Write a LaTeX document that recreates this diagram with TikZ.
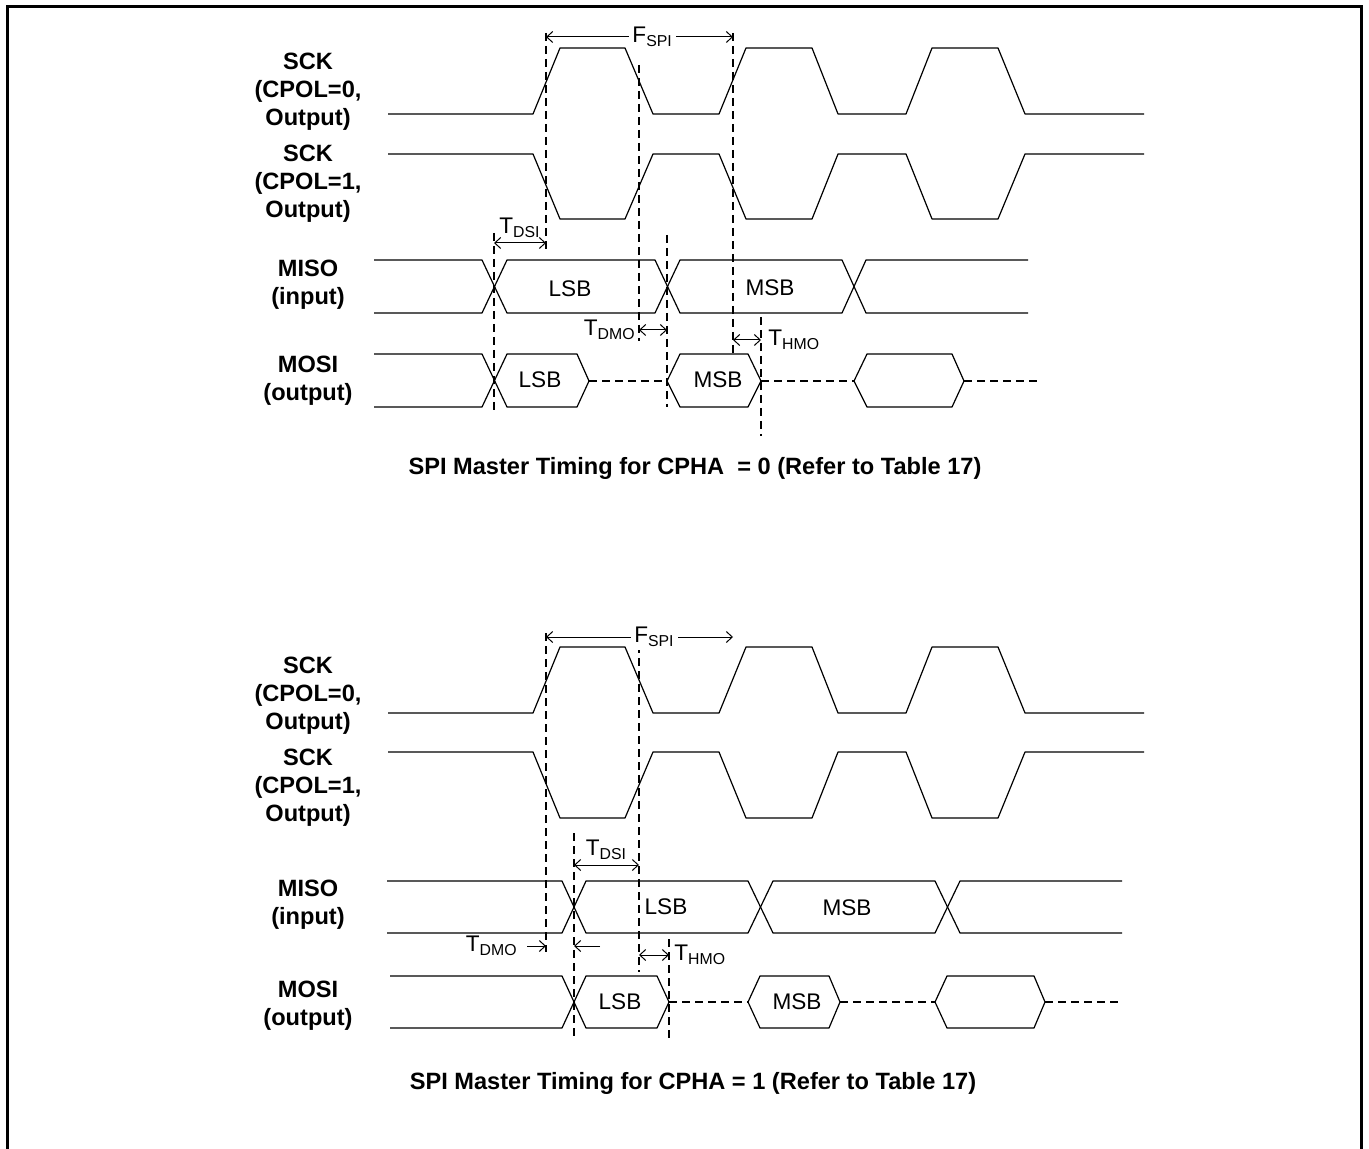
\documentclass[tikz,border=0pt]{standalone}
\usepackage{fontspec}
\setmainfont{Liberation Sans}
\usetikzlibrary{arrows.meta}
\tikzset{>={Straight Barb[length=3pt,width=5.5pt]}}
\tikzset{
  wave/.style = {line width=0.6pt, line join=round},
  guide/.style = {line width=0.75pt, dash pattern=on 4pt off 2.5pt},
  idle/.style = {line width=0.75pt, dash pattern=on 4pt off 2.5pt},
  dim/.style = {<->, line width=0.5pt},
  signame/.style = {font=\bfseries\fontsize{11.8}{14}\selectfont, align=center},
  bit/.style = {font=\fontsize{11.3}{13}\selectfont},
  tlabel/.style = {font=\fontsize{11.3}{13}\selectfont, inner sep=1.5pt},
  caption/.style = {font=\bfseries\fontsize{11.8}{14}\selectfont}
}

\begin{document}
\begin{tikzpicture}[x=0.5pt,y=-0.5pt]
  \useasboundingbox (0,0) rectangle (1369,1149);
  \draw[line width=1.5pt] (7,1149) -- (7,7) -- (1361,7) -- (1361,1149);

  % CPHA = 0
  \node[signame] (sck0a) at (308,92) {SCK\\(CPOL=0,\\Output)};
  \node[signame] (sck1a) at (308,184) {SCK\\(CPOL=1,\\Output)};
  \node[signame] (misoa) at (308,285) {MISO\\(input)};
  \node[signame] (mosia) at (308,381) {MOSI\\(output)};

  \draw[wave] (388,114) -- (533,114) -- (560,48) -- (625,48) -- (653,114) -- (719,114) -- (746,48) -- (812,48)
    -- (838,114) -- (906,114) -- (932,48) -- (998,48) -- (1025,114) -- (1144,114);
  \draw[wave] (388,154) -- (533,154) -- (560,219) -- (625,219) -- (653,154) -- (719,154) -- (746,219) -- (812,219)
    -- (838,154) -- (906,154) -- (932,219) -- (998,219) -- (1025,154) -- (1144,154);

  \draw[wave] (374,260) -- (482,260) -- (507,313) -- (655,313) -- (680,260) -- (842,260) -- (866,313) -- (1028,313);
  \draw[wave] (374,313) -- (482,313) -- (507,260) -- (655,260) -- (680,313) -- (842,313) -- (866,260) -- (1028,260);
  \node[bit] (lsbia) at (570,289) {LSB};
  \node[bit] (msbia) at (770,288) {MSB};

  \draw[wave] (374,354) -- (482,354) -- (507,407) -- (577,407) -- (589,381) -- (577,354) -- (507,354) -- (482,407) -- (374,407);
  \draw[wave] (667,381) -- (680,354) -- (748,354) -- (761,381) -- (748,407) -- (680,407) -- cycle;
  \draw[wave] (854,381) -- (867,354) -- (952,354) -- (964,381) -- (952,407) -- (867,407) -- cycle;
  \draw[idle] (589,381) -- (667,381);
  \draw[idle] (761,381) -- (854,381);
  \draw[idle] (964,381) -- (1041,381);
  \node[bit] (lsboa) at (540,380) {LSB};
  \node[bit] (msboa) at (718,380) {MSB};

  \draw[guide] (546,33) -- (546,250);
  \draw[guide] (639,65) -- (639,341);
  \draw[guide] (733,33) -- (733,354);
  \draw[guide] (494,233) -- (494,410);
  \draw[guide] (667,235) -- (667,407);
  \draw[guide] (761,317) -- (761,436);

  \coordinate (fspiLa) at (546,37);
  \coordinate (fspiRa) at (733,37);
  \draw[dim] (fspiLa) -- node[tlabel, fill=white, pos=0.57] (fspia) {F\textsubscript{SPI}} (fspiRa);
  \coordinate (dsiLa) at (494,243);
  \coordinate (dsiRa) at (546,243);
  \draw[dim] (dsiLa) -- node[tlabel, above=1pt] (tdsia) {T\textsubscript{DSI}} (dsiRa);
  \coordinate (dmoLa) at (639,330);
  \coordinate (dmoRa) at (667,330);
  \draw[dim] (dmoLa) -- (dmoRa);
  \node[tlabel, left] (tdmoa) at (dmoLa) {T\textsubscript{DMO}};
  \coordinate (hmoLa) at (733,340);
  \coordinate (hmoRa) at (761,340);
  \draw[dim] (hmoLa) -- (hmoRa);
  \node[tlabel, right=2pt] (thmoa) at (hmoRa) {T\textsubscript{HMO}};

  \node[caption] (capa) at (695,468) {SPI Master Timing for CPHA \ = 0 (Refer to Table 17)};

  % CPHA = 1
  \node[signame] (sck0b) at (308,696) {SCK\\(CPOL=0,\\Output)};
  \node[signame] (sck1b) at (308,788) {SCK\\(CPOL=1,\\Output)};
  \node[signame] (misob) at (308,905) {MISO\\(input)};
  \node[signame] (mosib) at (308,1006) {MOSI\\(output)};

  \draw[wave] (388,713) -- (533,713) -- (560,647) -- (625,647) -- (653,713) -- (719,713) -- (746,647) -- (812,647)
    -- (838,713) -- (906,713) -- (932,647) -- (998,647) -- (1025,713) -- (1144,713);
  \draw[wave] (388,752) -- (533,752) -- (560,818) -- (625,818) -- (653,752) -- (719,752) -- (746,818) -- (812,818)
    -- (838,752) -- (906,752) -- (932,818) -- (998,818) -- (1025,752) -- (1144,752);

  \draw[wave] (387,881) -- (562,881) -- (586,933) -- (748,933) -- (773,881) -- (935,881) -- (960,933) -- (1122,933);
  \draw[wave] (387,933) -- (562,933) -- (586,881) -- (748,881) -- (773,933) -- (935,933) -- (960,881) -- (1122,881);
  \node[bit] (lsbib) at (666,907) {LSB};
  \node[bit] (msbib) at (847,908) {MSB};

  \draw[wave] (390,976) -- (562,976) -- (586,1028) -- (657,1028) -- (669,1002) -- (657,976) -- (586,976) -- (562,1028) -- (390,1028);
  \draw[wave] (748,1002) -- (760,976) -- (829,976) -- (840,1002) -- (829,1028) -- (760,1028) -- cycle;
  \draw[wave] (935,1002) -- (947,976) -- (1034,976) -- (1045,1002) -- (1034,1028) -- (947,1028) -- cycle;
  \draw[idle] (669,1002) -- (748,1002);
  \draw[idle] (840,1002) -- (935,1002);
  \draw[idle] (1045,1002) -- (1122,1002);
  \node[bit] (lsbob) at (620,1002) {LSB};
  \node[bit] (msbob) at (797,1002) {MSB};

  \draw[guide] (546,633) -- (546,952);
  \draw[guide] (574,833) -- (574,1040);
  \draw[guide] (639,645) -- (639,972);
  \draw[guide] (669,939) -- (669,1040);

  \coordinate (fspiLb) at (546,637);
  \coordinate (fspiRb) at (733,637);
  \draw[dim] (fspiLb) -- node[tlabel, fill=white, pos=0.58] (fspib) {F\textsubscript{SPI}} (fspiRb);
  \coordinate (dsiLb) at (574,865);
  \coordinate (dsiRb) at (639,865);
  \draw[dim] (dsiLb) -- node[tlabel, above=1pt] (tdsib) {T\textsubscript{DSI}} (dsiRb);
  \coordinate (dmoLb) at (546,946);
  \coordinate (dmoRb) at (574,946);
  \coordinate (dmoSb) at (527,946);
  \coordinate (dmoTb) at (600,946);
  \draw[->, line width=0.5pt] (dmoSb) -- (dmoLb);
  \draw[->, line width=0.5pt] (dmoTb) -- (dmoRb);
  \node[tlabel, left=3pt] (tdmob) at (dmoSb) {T\textsubscript{DMO}};
  \coordinate (hmoLb) at (639,955);
  \coordinate (hmoRb) at (669,955);
  \draw[dim] (hmoLb) -- (hmoRb);
  \node[tlabel, right=1pt] (thmob) at (hmoRb) {T\textsubscript{HMO}};

  \node[caption] (capb) at (693,1083) {SPI Master Timing for CPHA = 1 (Refer to Table 17)};
\end{tikzpicture}
\end{document}
